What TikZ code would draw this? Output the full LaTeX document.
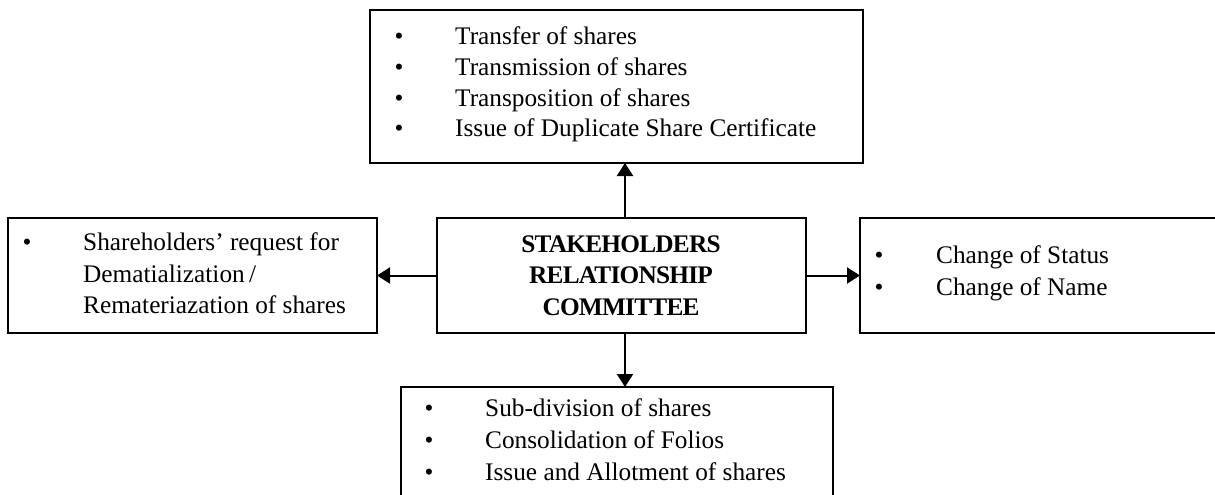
\documentclass[tikz,border=0pt]{standalone}
\usepackage{fontspec}
\setmainfont{Liberation Serif}
\usetikzlibrary{arrows.meta}
\begin{document}
\begin{tikzpicture}[x=1pt,y=-1pt,
  box/.style={draw, line width=2.4pt, rectangle, inner sep=0pt, outer sep=0pt, anchor=north west},
  txt/.style={anchor=base west, inner sep=0pt, font=\fontsize{25.3}{30}\selectfont},
  bul/.style={anchor=base, inner sep=0pt, font=\fontsize{25.3}{30}\selectfont},
  head/.style={anchor=base, inner sep=0pt, font=\fontsize{25.3}{30}\selectfont\bfseries\addfontfeatures{LetterSpace=-3}},
  link/.style={line width=2pt, -{Triangle[length=13pt,width=16pt]}}]
\useasboundingbox (0,0) rectangle (1215,495);
\clip (0,0) rectangle (1215,495);

% boxes
\node[box, minimum width=493pt, minimum height=153pt] (tbox) at (370,10) {};
\node[box, minimum width=369pt, minimum height=115pt] (cbox) at (437,218) {};
\node[box, minimum width=369pt, minimum height=115pt] (lbox) at (8,218) {};
\node[box, minimum width=369pt, minimum height=115pt] (rbox) at (860,218) {};
\node[box, minimum width=432pt, minimum height=125pt] (bbox) at (401,387) {};

% committee title
\node[head] (h1) at (621,252) {STAKEHOLDERS};
\node[head] (h2) at (621,283) {RELATIONSHIP};
\node[head] (h3) at (621,315) {COMMITTEE};

% upper list
\foreach \i/\t in {0/Transfer of shares,1/Transmission of shares,2/Transposition of shares,3/Issue of Duplicate Share Certificate}{
  \node[bul] (tb\i) at (399,45+30.5*\i) {•};
  \node[txt] (tt\i) at (455,45+30.5*\i) {\t};
}

% left list
\node[bul] (lb0) at (27,250) {•};
\node[txt] (lt0) at (83,250) {Shareholders’ request for};
\node[txt] (lt1) at (83,282) {Dematialization\,/};
\node[txt] (lt2) at (83,313) {Remateriazation of shares};

% right list
\node[bul] (rb0) at (879,263) {•};
\node[txt] (rt0) at (936,263) {Change of Status};
\node[bul] (rb1) at (879,295) {•};
\node[txt] (rt1) at (936,295) {Change of Name};

% lower list
\foreach \i/\t in {0/Sub-division of shares,1/Consolidation of Folios,2/Issue and Allotment of shares}{
  \node[bul] (bb\i) at (429,416+32*\i) {•};
  \node[txt] (bt\i) at (485,416+32*\i) {\t};
}

% connectors
\coordinate (ax) at (625,0);
\draw[link] (cbox.north -| ax) -- (tbox.south -| ax);
\draw[link] (cbox.south -| ax) -- (bbox.north -| ax);
\draw[link] (cbox.west) -- (lbox.east);
\draw[link] (cbox.east) -- (rbox.west);
\end{tikzpicture}
\end{document}
